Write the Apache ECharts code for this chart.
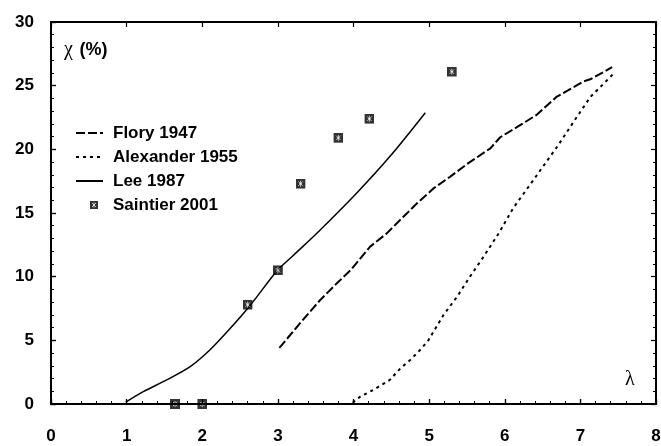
<!DOCTYPE html>
<html><head><meta charset="utf-8">
<script src="https://cdn.jsdelivr.net/npm/echarts@6/dist/echarts.min.js"></script>
<style>html,body{margin:0;padding:0;background:#fff}#wrap{position:relative;width:661px;height:446px}#c,#f{position:absolute;left:0;top:0;width:661px;height:446px}#f{pointer-events:none}</style>
</head><body><div id="wrap"><div id="c"></div><div id="f"></div></div>
<script>
const xTicks = [0,1,2,3,4,5,6,7,8];
const yTicks = [0,5,10,15,20,25,30];
const flory1947 = [[3.02,4.4],[3.16,5.4],[3.3,6.4],[3.56,8.17],[3.78,9.48],[3.96,10.5],[4.22,12.36],[4.44,13.4],[4.66,14.71],[4.84,15.76],[5.06,16.94],[5.28,17.86],[5.5,18.84],[5.81,20.08],[5.94,20.95],[6.16,21.74],[6.42,22.7],[6.69,24.14],[7.04,25.33],[7.13,25.5],[7.42,26.45]];
const alexander1955 = [[3.99,0.1],[4.09,0.58],[4.26,1.1],[4.48,1.89],[4.62,2.8],[4.75,3.46],[4.88,4.24],[4.99,5.0],[5.19,6.99],[5.37,8.43],[5.54,10.0],[5.72,11.57],[5.92,13.4],[6.11,15.37],[6.38,17.6],[6.71,20.35],[6.87,21.8],[7.13,24.1],[7.44,25.95]];
const lee1987 = [[0.99,0.15],[1.22,0.97],[1.53,1.89],[1.84,2.93],[2.1,4.24],[2.35,5.81],[2.63,7.72],[2.99,10.47],[3.21,11.7],[3.56,13.67],[4.04,16.55],[4.48,19.43],[4.95,22.88]];
const saintier2001 = [[1.64,0],[2.0,0],[2.6,7.8],[3.0,10.5],[3.3,17.3],[3.8,20.9],[4.21,22.4],[5.3,26.1]];
const seriesNames = ['Flory 1947','Alexander 1955','Lee 1987','Saintier 2001'];

const FONT = '"Liberation Sans", Arial, sans-serif';
const markSvg = '<svg xmlns="http://www.w3.org/2000/svg" width="10" height="10" viewBox="0 0 10 10"><rect x="0" y="0" width="10" height="10" fill="#000"/><g stroke="#fff" stroke-width="0.7"><line x1="5" y1="2" x2="5" y2="8"/><line x1="2.8" y1="2.8" x2="7.2" y2="7.2"/><line x1="7.2" y1="2.8" x2="2.8" y2="7.2"/><line x1="3.5" y1="5" x2="6.5" y2="5"/></g></svg>';
const markImg = 'image://data:image/svg+xml;utf8,' + encodeURIComponent(markSvg);
const legSvg = '<svg xmlns="http://www.w3.org/2000/svg" width="27" height="14" viewBox="0 0 27 14"><rect x="14" y="3" width="8" height="8" fill="#000"/><g stroke="#fff" stroke-width="0.7"><line x1="18" y1="4.5" x2="18" y2="9.5"/><line x1="16" y1="5" x2="20" y2="9"/><line x1="20" y1="5" x2="16" y2="9"/></g></svg>';
const legImg = 'image://data:image/svg+xml;utf8,' + encodeURIComponent(legSvg);

function axisBase(extra){
  return Object.assign({
    min: 0, axisLine:{show:true, onZero:false, lineStyle:{color:'#000', width:2}},
    axisTick:{show:true, inside:true, length:5, lineStyle:{color:'#000', width:1.2}},
    minorTick:{show:true, splitNumber:5, length:3, lineStyle:{color:'#000', width:1}},
    splitLine:{show:false}, minorSplitLine:{show:false}
  }, extra);
}
const gridBox = {left:51, right:5, top:22, bottom:42, outerBoundsMode:'none', containLabel:false};
const hiddenSym = {opacity:0, color:'transparent', borderWidth:0};

const chart = echarts.init(document.getElementById('c'), null, {renderer:'canvas'});
chart.setOption({
  animation:false,
  backgroundColor:'#fff',
  grid:Object.assign({}, gridBox),
  xAxis:[
    axisBase({type:'value', position:'bottom', max:8, interval:1,
      axisLabel:{show:true, margin:24, color:'#000', fontSize:17, fontWeight:'bold', fontFamily:FONT,
        formatter: v => xTicks.includes(v) ? String(v) : ''}})
  ],
  yAxis:[
    axisBase({type:'value', position:'left', max:30, interval:5,
      axisLabel:{show:true, margin:17, color:'#000', fontSize:17, fontWeight:'bold', fontFamily:FONT,
        formatter: v => yTicks.includes(v) ? String(v) : ''}})
  ],
  legend:{
    orient:'vertical', left:75, top:124, padding:0, itemGap:6, itemWidth:27, itemHeight:14,
    textStyle:{color:'#000', fontSize:17, fontWeight:'bold', fontFamily:FONT, lineHeight:18, padding:[0,0,0,5]},
    data:[
      {name:seriesNames[0], itemStyle:hiddenSym},
      {name:seriesNames[1], itemStyle:hiddenSym},
      {name:seriesNames[2], itemStyle:hiddenSym},
      {name:seriesNames[3], icon:legImg}
    ]
  },
  graphic:[
    {type:'text', left:64, top:40, style:{rich:{c:{fontFamily:'"Liberation Serif", serif', fontSize:20, fill:'#000'}, p:{fontFamily:FONT, fontSize:18, fontWeight:'bold', fill:'#000'}}, text:'{c|χ}  {p|(%)}'}},
    {type:'text', left:625, top:370, style:{text:'λ', fontFamily:'"Liberation Serif", serif', fontSize:20, fill:'#000'}}
  ],
  series:[
    {name:seriesNames[0], type:'line', data:flory1947, symbol:'none', smooth:false,
      lineStyle:{color:'#000', width:2, type:[9,3]}, itemStyle:{color:'#000'}},
    {name:seriesNames[1], type:'line', data:alexander1955, symbol:'none', smooth:false,
      lineStyle:{color:'#000', width:2, type:[3,4]}, itemStyle:{color:'#000'}},
    {name:seriesNames[2], type:'line', data:lee1987, symbol:'none', smooth:0.3,
      lineStyle:{color:'#000', width:1.5, type:'solid'}, itemStyle:{color:'#000'}},
    {name:seriesNames[3], type:'scatter', data:saintier2001, symbol:markImg, symbolSize:10, clip:false,
      itemStyle:{color:'#000'}, z:5}
  ]
});

// Frame overlay: top and right axes with inward ticks
const frame = echarts.init(document.getElementById('f'), null, {renderer:'canvas'});
frame.setOption({
  animation:false,
  grid:Object.assign({}, gridBox),
  xAxis:[
    axisBase({type:'value', position:'bottom', max:8, interval:1, axisLabel:{show:false}}),
    axisBase({type:'value', position:'top', max:8, interval:1, axisLabel:{show:false}})
  ],
  yAxis:[
    axisBase({type:'value', position:'left', max:30, interval:5, axisLabel:{show:false}}),
    axisBase({type:'value', position:'right', max:30, interval:5, axisLabel:{show:false}})
  ],
  series:[{type:'line', data:lee1987, symbol:'none', silent:true, lineStyle:{opacity:0}}]
});
</script></body></html>
